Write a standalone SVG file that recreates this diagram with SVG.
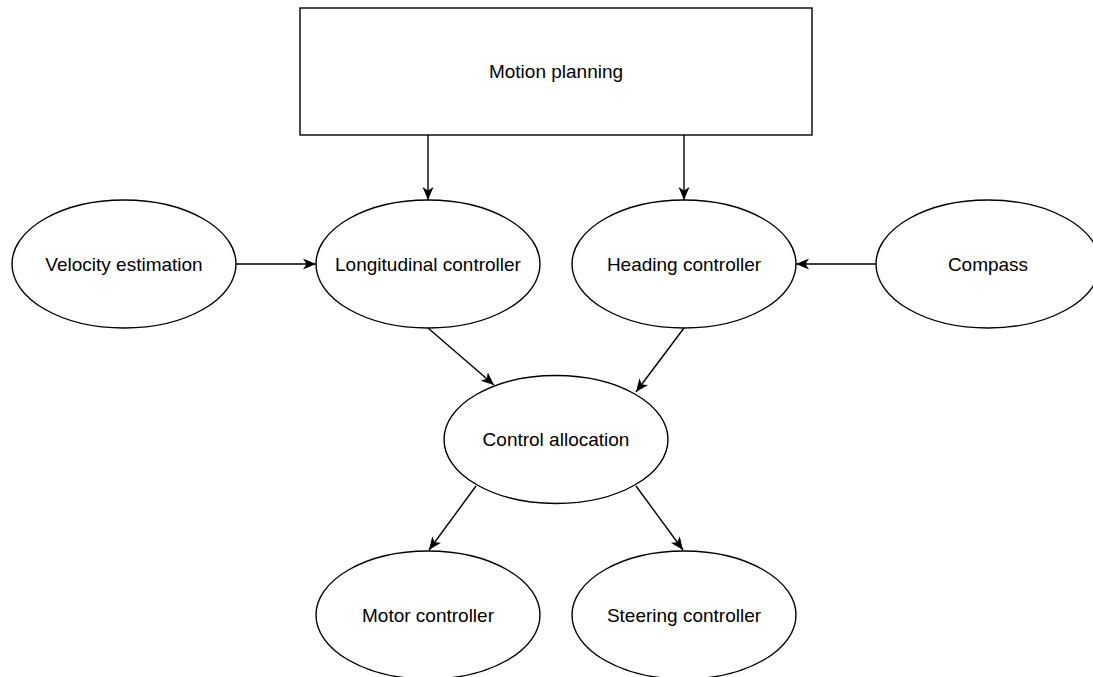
<svg xmlns="http://www.w3.org/2000/svg" width="1093" height="677" viewBox="0 0 1093 677">
<defs>
<style>
.n{fill:#fff;stroke:#000;stroke-width:1.4}
.t{font-family:"Liberation Sans",Arial,sans-serif;font-size:19px;fill:#000;text-anchor:middle}
.e{stroke:#000;stroke-width:1.4;fill:none;marker-end:url(#a)}
</style>
<marker id="a" markerUnits="userSpaceOnUse" markerWidth="16" markerHeight="14" refX="13" refY="6" orient="auto">
<path d="M0,0.5 L13,6 L0,11.5 L3.5,6 Z" fill="#000"/>
</marker>
</defs>
<rect width="1093" height="677" fill="#fff"/>
<g id="connectors">
<line class="e" x1="428" y1="135" x2="428" y2="200"/>
<line class="e" x1="684" y1="135" x2="684" y2="200"/>
<line class="e" x1="236" y1="264" x2="316" y2="264"/>
<line class="e" x1="876" y1="264" x2="796" y2="264"/>
<line class="e" x1="428" y1="328" x2="494" y2="385"/>
<line class="e" x1="684" y1="328" x2="636" y2="392"/>
<line class="e" x1="476" y1="486" x2="429" y2="550"/>
<line class="e" x1="636" y1="486" x2="683" y2="550"/>
</g>
<g id="motion-planning">
<rect class="n" x="300" y="8" width="512" height="127"/>
<text class="t" x="556" y="78">Motion planning</text>
</g>
<g id="velocity-estimation">
<ellipse class="n" cx="124" cy="264" rx="112" ry="64"/>
<text class="t" x="124" y="271">Velocity estimation</text>
</g>
<g id="longitudinal-controller">
<ellipse class="n" cx="428" cy="264" rx="112" ry="64"/>
<text class="t" x="428" y="271">Longitudinal controller</text>
</g>
<g id="heading-controller">
<ellipse class="n" cx="684" cy="264" rx="112" ry="64"/>
<text class="t" x="684" y="271">Heading controller</text>
</g>
<g id="compass">
<ellipse class="n" cx="988" cy="264" rx="112" ry="64"/>
<text class="t" x="988" y="271">Compass</text>
</g>
<g id="control-allocation">
<ellipse class="n" cx="556" cy="439.5" rx="112" ry="64"/>
<text class="t" x="556" y="446">Control allocation</text>
</g>
<g id="motor-controller">
<ellipse class="n" cx="428" cy="615" rx="112" ry="64"/>
<text class="t" x="428" y="622">Motor controller</text>
</g>
<g id="steering-controller">
<ellipse class="n" cx="684" cy="615" rx="112" ry="64"/>
<text class="t" x="684" y="622">Steering controller</text>
</g>
</svg>
